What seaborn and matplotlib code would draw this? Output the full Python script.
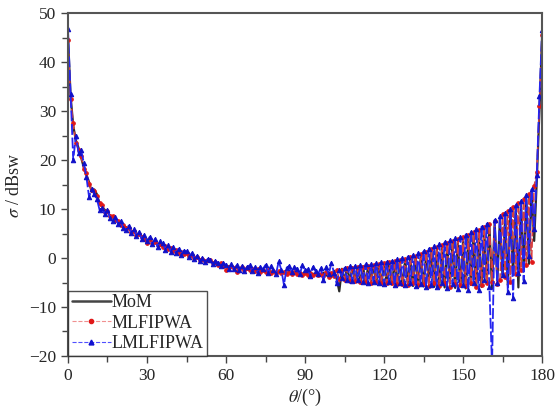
import numpy as np
import pandas as pd
import matplotlib
matplotlib.use("Agg")
import matplotlib.pyplot as plt
from matplotlib.ticker import MultipleLocator
from matplotlib.lines import Line2D
import seaborn as sns

# Góc quan sát (độ)
theta = np.arange(0, 181)

# Kết quả MoM (dBsw)
mom = [
    45.0, 33.0, 27.0, 24.0, 22.5, 20.5, 18.5, 17.0, 15.5, 13.5,
    14.0, 13.0, 11.0, 10.5, 9.8, 9.3, 8.7, 8.3, 7.9, 7.4,
    7.0, 6.6, 6.3, 6.0, 5.6, 5.3, 5.0, 4.7, 4.4, 4.1,
    3.8, 3.6, 3.3, 3.1, 2.9, 2.65, 2.4, 2.2, 2.0, 1.8,
    1.6, 1.4, 1.3, 1.1, 1.0, 0.8, 0.6, 0.4, 0.2, 0.0,
    -0.2, -0.4, -0.5, -0.7, -0.8, -0.9, -1.1, -1.2, -1.3, -1.4,
    -1.6, -1.7, -1.8, -1.9, -2.0, -2.1, -2.1, -2.2, -2.3, -2.3,
    -2.4, -2.5, -2.5, -2.6, -2.6, -2.7, -2.7, -2.8, -2.8, -2.9,
    -2.9, -2.9, -3.0, -3.0, -3.0, -3.1, -3.1, -3.1, -3.2, -3.2,
    -3.2, -3.3, -3.3, -3.2, -3.4, -3.2, -3.5, -3.0, -3.6, -2.9,
    -3.9, -2.6, -4.2, -6.8, -2.2, -4.5, -2.0, -4.6, -1.9, -4.8,
    -1.8, -4.9, -1.7, -5.0, -1.6, -4.7, -1.5, -5.1, -1.4, -5.2,
    -1.2, -5.0, -1.0, -5.4, -0.8, -5.3, -0.6, -5.6, -0.4, -5.0,
    -0.1, -5.7, 0.2, -5.5, 0.5, -5.8, 0.8, -4.9, 1.2, -5.9,
    1.6, -5.6, 2.0, -6.0, 2.5, -5.2, 3.0, -6.1, 3.2, -5.8,
    3.5, -6.2, 4.0, -5.5, 4.6, -6.0, 5.2, -5.9, 5.8, -4.8,
    6.6, -6.3, 7.2, -4.5, 7.9, -3.8, 8.6, -5.5, 9.3, -3.0,
    10.2, -6.0, 11.0, -2.0, 12.0, -1.2, 13.5, 3.5, 16.0, 30.0,
    45.0,
]

# Kết quả MLFIPWA
mlfipwa = [
    44.5, 32.5, 27.5, 23.5, 22.0, 20.8, 18.2, 17.3, 15.2, 13.8,
    13.6, 12.6, 11.2, 10.9, 9.5, 9.6, 8.5, 8.6, 7.7, 7.6,
    6.8, 6.8, 6.1, 6.2, 5.4, 5.5, 4.8, 4.9, 4.2, 3.9,
    3.0, 3.8, 3.1, 3.3, 2.7, 2.8, 2.2, 2.4, 1.8, 2.0,
    1.4, 1.6, 1.1, 1.3, 0.8, 1.0, 0.4, 0.6, 0.0, 0.2,
    -0.4, -0.2, -0.7, -0.5, -0.4, -1.1, -0.9, -1.4, -1.1, -1.6,
    -2.5, -1.9, -1.6, -2.1, -2.8, -2.3, -1.9, -2.4, -2.1, -2.5,
    -2.2, -2.7, -2.3, -2.8, -2.4, -2.9, -2.5, -3.0, -2.6, -3.1,
    -2.7, -3.1, -2.8, -3.2, -2.8, -3.3, -2.9, -3.3, -3.0, -3.4,
    -3.0, -3.4, -3.1, -3.5, -3.1, -3.5, -3.2, -3.6, -2.9, -3.8,
    -3.0, -3.6, -2.5, -4.2, -2.4, -4.4, -2.1, -4.6, -2.0, -4.7,
    -1.9, -4.8, -1.8, -4.9, -1.6, -5.0, -1.5, -4.8, -1.3, -5.1,
    -1.1, -5.2, -0.9, -5.0, -0.7, -5.4, -0.4, -5.3, -0.1, -5.5,
    0.2, -5.1, 0.5, -5.6, 0.9, -5.4, 1.3, -5.7, 1.8, -5.2,
    2.2, -5.8, 2.6, -5.0, 3.0, -5.9, 3.4, -5.3, 3.8, -5.5,
    4.3, -5.8, 4.7, -5.0, 5.3, -6.0, 5.8, -5.6, 6.4, -5.2,
    7.0, -4.8, 7.6, -5.3, -4.5, 8.9, -3.9, 9.6, -4.8, 10.4,
    -3.2, 11.2, -2.5, 12.0, -1.5, 13.0, -0.8, 14.8, 17.5, 31.0,
    45.5,
]

# Kết quả LMLFIPWA
lmlfipwa = [
    46.7, 33.5, 20.0, 25.0, 21.5, 22.0, 19.5, 16.5, 12.5, 14.0,
    13.0, 12.0, 9.8, 10.2, 9.0, 9.9, 8.2, 7.5, 8.3, 7.0,
    7.6, 6.2, 5.8, 6.6, 5.2, 5.9, 4.6, 5.3, 3.8, 4.7,
    3.4, 4.3, 2.8, 3.9, 2.3, 3.4, 3.0, 1.7, 2.6, 1.3,
    2.2, 1.0, 1.9, 0.7, 1.5, 1.4, 0.3, 1.0, -0.3, 0.5,
    -0.6, 0.1, -0.9, -0.2, -0.5, -1.3, -0.6, -1.0, -1.6, -1.0,
    -1.4, -2.2, -1.3, -2.3, -1.5, -2.5, -1.7, -2.6, -1.9, -1.4,
    -2.7, -1.9, -3.0, -1.8, -2.2, -1.4, -3.1, -1.7, -2.5, -3.2,
    -0.7, -2.4, -5.5, -2.0, -1.6, -2.8, -1.9, -2.2, -3.3, -1.5,
    -2.5, -2.3, -3.6, -1.8, -2.7, -3.2, -2.1, -4.5, -1.9, -3.3,
    -1.0, -3.0, -5.2, -2.4, -4.0, -2.0, -4.4, -1.7, -4.6, -1.6,
    -4.5, -1.5, -4.9, -1.3, -5.0, -1.3, -4.8, -1.1, -5.2, -0.9,
    -5.3, -0.8, -4.9, -0.6, -5.5, -0.3, -5.2, 0.0, -5.6, 0.3,
    -5.0, 0.6, -5.8, 1.0, -5.3, 1.4, -6.0, 1.9, -5.5, 2.4,
    -5.9, 2.8, -5.0, 3.2, -6.2, 3.6, -5.4, 4.0, -6.4, 4.3,
    -5.6, 4.8, -6.5, 5.3, -5.0, 5.9, -6.6, 6.4, -4.4, 7.0,
    -6.0, -22.0, 7.8, -5.0, 8.5, -3.5, 9.2, -7.0, 10.0, -8.2,
    10.8, -3.0, 11.6, -4.6, 12.8, 0.5, 14.0, 6.0, 17.0, 33.0,
    46.5,
]

df = pd.DataFrame({"theta": theta, "MoM": mom,
                   "MLFIPWA": mlfipwa, "LMLFIPWA": lmlfipwa})

sns.set_style("ticks")
plt.rcParams["font.family"] = ["Liberation Serif", "DejaVu Serif"]
plt.rcParams["mathtext.fontset"] = "stix"

fig, ax = plt.subplots(figsize=(5.6, 4.12), dpi=100)
fig.subplots_adjust(left=0.1214, right=0.968, top=0.968, bottom=0.136)

sns.lineplot(data=df, x="theta", y="MoM", color="#2a2a2a", linewidth=1.6, ax=ax)
sns.lineplot(data=df, x="theta", y="MLFIPWA", color="#d84040", linewidth=1.1,
             dashes=False, linestyle=(0, (6, 1.5)), marker="o", markersize=2.6,
             markerfacecolor="#e01818", markeredgecolor="#e01818", ax=ax)
sns.lineplot(data=df, x="theta", y="LMLFIPWA", color="#2525f0", linewidth=1.3,
             linestyle=(0, (6, 1.5)), marker="^", markersize=3.2,
             markerfacecolor="#1010c8", markeredgecolor="#1010c8", ax=ax)

ax.set_xlim(0, 180)
ax.set_ylim(-20, 50)
ax.xaxis.set_major_locator(MultipleLocator(30))
ax.xaxis.set_minor_locator(MultipleLocator(15))
ax.yaxis.set_major_locator(MultipleLocator(10))
ax.yaxis.set_minor_locator(MultipleLocator(5))
ax.tick_params(which="major", direction="out", length=5, width=1,
               labelsize=12.5, color="#444444", top=False, right=False)
ax.tick_params(which="minor", direction="out", length=4, width=1,
               color="#444444", top=False, right=False)
for s in ax.spines.values():
    s.set_visible(True)
    s.set_color("#555555")
    s.set_linewidth(1.5)

ax.set_xlabel(r"$\theta$/(°)", fontsize=13, labelpad=2)
ax.set_ylabel(r"$\sigma$ / dBsw", fontsize=13, labelpad=4)

handles = [
    Line2D([], [], color="#444444", linewidth=1.8),
    Line2D([], [], color="#f09090", linewidth=0.8, linestyle="--",
           marker="o", markersize=3, markerfacecolor="#e01818",
           markeredgecolor="#e01818"),
    Line2D([], [], color="#5050ff", linewidth=0.8, linestyle="--",
           marker="^", markersize=3.5, markerfacecolor="#1010d0",
           markeredgecolor="#1010d0"),
]
leg = ax.legend(handles, ["MoM", "MLFIPWA", "LMLFIPWA"], loc="lower left",
                fontsize=13, frameon=True, fancybox=False, borderaxespad=0,
                borderpad=0.2, handlelength=2.2, handletextpad=0.0,
                labelspacing=0.2)
leg.get_frame().set_edgecolor("#222222")
leg.get_frame().set_linewidth(1.0)

fig.savefig("out.png", dpi=100)
